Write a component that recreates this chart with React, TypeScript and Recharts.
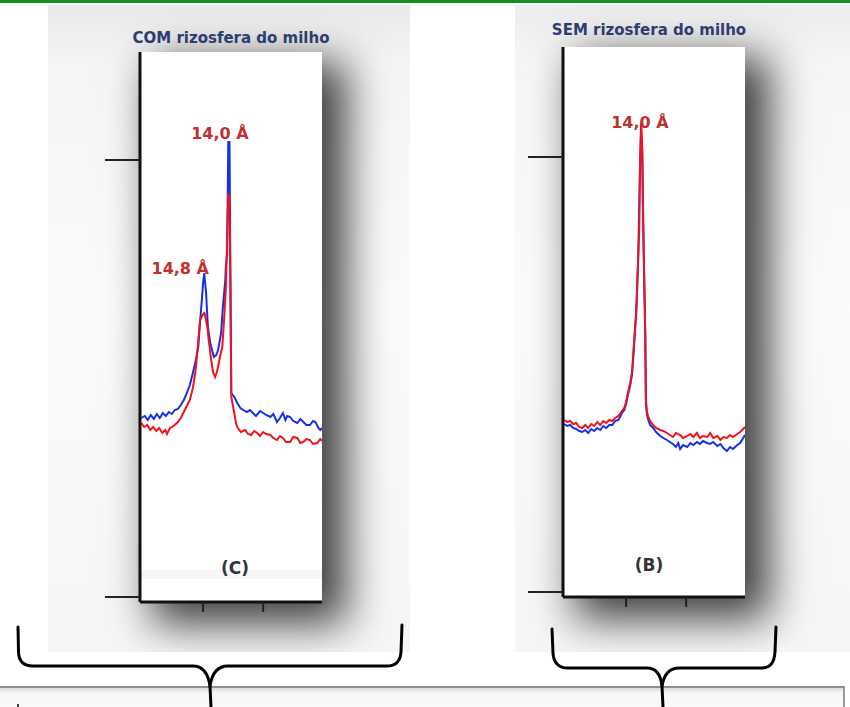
import React from 'react';
import { LineChart, Line, XAxis, YAxis, ReferenceDot, ReferenceArea } from 'recharts';

// ---------- Panel (C): COM rizosfera do milho ----------
const comBlueTheta = [4.97,5.03,5.08,5.13,5.18,5.23,5.28,5.33,5.38,5.43,5.48,5.53,5.58,5.63,5.68,5.73,5.78,5.83,5.88,5.92,5.95,5.98,6.00,6.02,6.03,6.05,6.08,6.12,6.15,6.18,6.22,6.25,6.28,6.30,6.33,6.37,6.38,6.40,6.42,6.44,6.47,6.52,6.57,6.62,6.67,6.73,6.78,6.83,6.88,6.95,7.00,7.05,7.12,7.17,7.23,7.28,7.33,7.37,7.40,7.45,7.50,7.57,7.62,7.67,7.72,7.78,7.83,7.87,7.92,7.95,7.98];
const comBlueCounts = [184,186,182,187,183,188,184,189,186,190,188,192,193,197,202,209,217,229,242,255,280,302,319,329,322,309,275,259,252,245,247,252,262,269,295,322,337,347,460,460,209,205,199,194,192,190,192,189,186,191,189,187,185,188,180,184,189,182,186,185,181,179,183,180,177,177,181,180,174,172,174];

const comRedTheta = [4.97,5.02,5.07,5.12,5.17,5.22,5.27,5.32,5.37,5.40,5.45,5.48,5.53,5.58,5.63,5.67,5.72,5.78,5.83,5.87,5.90,5.92,5.95,5.98,6.02,6.03,6.07,6.10,6.12,6.15,6.17,6.20,6.23,6.25,6.28,6.32,6.35,6.38,6.40,6.42,6.44,6.47,6.52,6.55,6.58,6.63,6.70,6.75,6.80,6.85,6.90,6.95,7.00,7.05,7.12,7.17,7.23,7.28,7.33,7.38,7.45,7.50,7.57,7.62,7.67,7.72,7.78,7.83,7.90,7.95,7.98];
const comRedCounts = [179,175,177,172,175,171,174,169,172,168,174,175,177,180,184,189,195,202,214,229,247,262,282,286,289,288,275,259,249,236,229,225,230,235,245,255,282,315,362,407,407,205,189,178,174,170,172,168,167,171,169,166,170,168,167,164,162,166,164,160,160,165,164,159,160,163,162,158,159,163,161];

const comPeakLabels = ['14,0 Å', '14,8 Å'];
const comPeakTheta = [6.28, 5.62];
const comPeakCounts = [469, 334];
const comYTicks = [5, 442];

// ---------- Panel (B): SEM rizosfera do milho ----------
const semRedTheta = [4.97,5.02,5.07,5.12,5.17,5.22,5.27,5.32,5.37,5.42,5.47,5.52,5.57,5.62,5.67,5.72,5.77,5.82,5.87,5.90,5.93,5.97,6.00,6.03,6.07,6.10,6.13,6.17,6.18,6.20,6.22,6.23,6.25,6.27,6.28,6.30,6.32,6.33,6.35,6.37,6.40,6.45,6.50,6.57,6.62,6.68,6.73,6.78,6.83,6.90,6.95,7.02,7.07,7.12,7.18,7.23,7.28,7.35,7.40,7.45,7.52,7.57,7.62,7.68,7.73,7.78,7.85,7.90,7.95,7.98];
const semRedCounts = [177,175,176,173,174,170,169,172,169,173,171,175,172,176,174,177,176,179,181,183,186,189,195,204,214,225,252,287,302,337,367,427,474,447,397,327,264,197,185,180,176,172,169,167,166,164,162,160,164,162,159,161,163,160,164,159,161,160,164,159,161,157,160,159,162,160,163,165,168,170];

const semBlueTheta = [4.97,5.02,5.07,5.12,5.17,5.22,5.27,5.32,5.37,5.42,5.47,5.52,5.57,5.62,5.67,5.72,5.77,5.82,5.87,5.90,5.93,5.97,6.00,6.03,6.07,6.10,6.13,6.17,6.20,6.23,6.25,6.27,6.28,6.30,6.32,6.33,6.35,6.37,6.40,6.45,6.50,6.57,6.62,6.68,6.73,6.78,6.83,6.87,6.90,6.95,7.02,7.07,7.12,7.18,7.23,7.28,7.35,7.40,7.45,7.52,7.57,7.62,7.68,7.73,7.78,7.85,7.90,7.95,7.98];
const semBlueCounts = [173,171,172,169,168,166,165,167,164,168,166,169,167,171,169,172,172,176,177,180,184,187,193,202,212,223,249,285,335,422,469,442,392,322,259,192,182,177,172,169,165,161,159,157,155,153,150,154,148,152,150,154,152,155,153,156,154,153,155,151,153,149,146,150,148,152,154,159,162];

const semPeakLabels = ['14,0 Å'];
const semPeakTheta = [6.23];
const semPeakCounts = [475];
const semYTicks = [5, 440];

const xTicks = [6, 7];
const panelTitles = ['COM rizosfera do milho', 'SEM rizosfera do milho'];
const panelLetters = ['(C)', '(B)'];

const toSeries = (theta: number[], counts: number[]) => theta.map((t, k) => ({ t, i: counts[k] }));

const RED = '#f0121c';
const BLUE = '#1530e6';
const LABEL_RED = '#c0302f';
const AXIS = '#111';

function Panel(props: {
  blue: { t: number; i: number }[];
  red: { t: number; i: number }[];
  yTicks: number[];
  labels: string[];
  labelTheta: number[];
  labelCounts: number[];
  band?: boolean;
}) {
  const { blue, red, yTicks, labels, labelTheta, labelCounts, band } = props;
  return (
    <LineChart width={227} height={580} margin={{ top: 5, right: 5, bottom: 5, left: 0 }}>
      <XAxis
        type="number"
        dataKey="t"
        domain={[4.95, 7.98]}
        ticks={xTicks}
        tickSize={10}
        height={20}
        tickFormatter={() => ''}
        axisLine={{ stroke: AXIS, strokeWidth: 3 }}
        tickLine={{ stroke: '#222', strokeWidth: 2 }}
        allowDataOverflow
      />
      <YAxis
        type="number"
        domain={[0, 550]}
        ticks={yTicks}
        width={40}
        tickSize={35}
        tickFormatter={() => ''}
        axisLine={{ stroke: AXIS, strokeWidth: 3 }}
        tickLine={{ stroke: '#222', strokeWidth: 2 }}
        allowDataOverflow
      />
      {band ? (
        <ReferenceArea y1={23} y2={32} fill="#ececec" fillOpacity={0.45} stroke="none" />
      ) : null}
      <Line data={blue} dataKey="i" stroke={BLUE} strokeWidth={2} dot={false} isAnimationActive={false} />
      <Line data={red} dataKey="i" stroke={RED} strokeWidth={2} dot={false} isAnimationActive={false} />
      {labels.map((lab, k) => (
        <ReferenceDot
          key={lab + k}
          x={labelTheta[k]}
          y={labelCounts[k]}
          r={0}
          fill="none"
          stroke="none"
          label={{
            value: lab,
            position: 'center',
            fill: LABEL_RED,
            fontSize: 16,
            fontWeight: 'bold',
            fontFamily: 'DejaVu Sans',
          }}
        />
      ))}
    </LineChart>
  );
}

export default function App() {
  const comBlue = toSeries(comBlueTheta, comBlueCounts);
  const comRed = toSeries(comRedTheta, comRedCounts);
  const semBlue = toSeries(semBlueTheta, semBlueCounts);
  const semRed = toSeries(semRedTheta, semRedCounts);

  const titleStyle: React.CSSProperties = {
    position: 'absolute',
    width: 300,
    textAlign: 'center',
    fontFamily: 'DejaVu Sans',
    fontWeight: 'bold',
    fontSize: 15,
    lineHeight: '15px',
    color: '#2d3d70',
    whiteSpace: 'nowrap',
  };
  const letterStyle: React.CSSProperties = {
    position: 'absolute',
    width: 80,
    textAlign: 'center',
    fontFamily: 'DejaVu Sans',
    fontWeight: 'bold',
    fontSize: 17,
    lineHeight: '20px',
    color: '#333',
  };

  return (
    <div style={{ position: 'absolute', left: 0, top: 0, width: 850, height: 707, background: '#fff', overflow: 'hidden' }}>
      {/* top green rule */}
      <div style={{ position: 'absolute', left: 0, top: 0, width: 850, height: 3, background: '#16901c' }} />

      {/* backdrop + shadow, panel C */}
      <div
        style={{
          position: 'absolute',
          left: 48,
          top: 5,
          width: 362,
          height: 647,
          overflow: 'hidden',
          background: 'linear-gradient(#e9e9e9, #f5f5f5 60px, #fbfbfb 300px, #f6f6f6)',
        }}
      >
        <div
          style={{
            position: 'absolute',
            left: 92,
            top: 47,
            width: 182,
            height: 550,
            background: '#fff',
            boxShadow: '18px 16px 40px 6px rgba(0,0,0,0.75)',
          }}
        />
      </div>

      {/* backdrop + shadow, panel B */}
      <div
        style={{
          position: 'absolute',
          left: 515,
          top: 5,
          width: 335,
          height: 647,
          overflow: 'hidden',
          background: 'linear-gradient(#ececec, #f6f6f6 60px, #fbfbfb 300px, #f6f6f6)',
        }}
      >
        <div
          style={{
            position: 'absolute',
            left: 48,
            top: 42,
            width: 182,
            height: 550,
            background: '#fff',
            boxShadow: '18px 16px 40px 6px rgba(0,0,0,0.75)',
          }}
        />
      </div>

      {/* titles */}
      <div style={{ ...titleStyle, left: 231 - 150, top: 31 }}>{panelTitles[0]}</div>
      <div style={{ ...titleStyle, left: 649 - 150, top: 23 }}>{panelTitles[1]}</div>

      {/* charts */}
      <div style={{ position: 'absolute', left: 100, top: 47 }}>
        <Panel
          blue={comBlue}
          red={comRed}
          yTicks={comYTicks}
          labels={comPeakLabels}
          labelTheta={comPeakTheta}
          labelCounts={comPeakCounts}
          band
        />
      </div>
      <div style={{ position: 'absolute', left: 523, top: 42 }}>
        <Panel
          blue={semBlue}
          red={semRed}
          yTicks={semYTicks}
          labels={semPeakLabels}
          labelTheta={semPeakTheta}
          labelCounts={semPeakCounts}
        />
      </div>

      {/* panel letters */}
      <div style={{ ...letterStyle, left: 235 - 40, top: 558 }}>{panelLetters[0]}</div>
      <div style={{ ...letterStyle, left: 649 - 40, top: 555 }}>{panelLetters[1]}</div>

      {/* bottom text box */}
      <div
        style={{
          position: 'absolute',
          left: -4,
          top: 686,
          width: 847,
          height: 40,
          borderTop: '2px solid #8f8f8f',
          borderRight: '2px solid #9a9a9a',
          background: 'linear-gradient(#dcdcdc, #f7f7f7 5px, #fdfdfd)',
        }}
      />

      {/* braces */}
      <svg width={850} height={707} style={{ position: 'absolute', left: 0, top: 0, pointerEvents: 'none' }}>
        <g fill="none" stroke="#000" strokeWidth={3} strokeLinecap="round" strokeLinejoin="round">
          <path d="M18 627 L18.5 652 Q19 666 33 666 L193 666 Q207 666 210 686 L211 707" />
          <path d="M210 686 Q213 666 228 666 L387 666 Q400 666 401 652 L402 625" />
          <path d="M552 629 L553 653 Q554 668 568 668 L647 668 Q660 668 662 686 L663 707" />
          <path d="M662 686 Q665 668 679 668 L762 668 Q774 668 775 652 L776 627" />
        </g>
        <line x1={18} y1={704} x2={18} y2={707} stroke="#000" strokeWidth={1.5} />
      </svg>
    </div>
  );
}
